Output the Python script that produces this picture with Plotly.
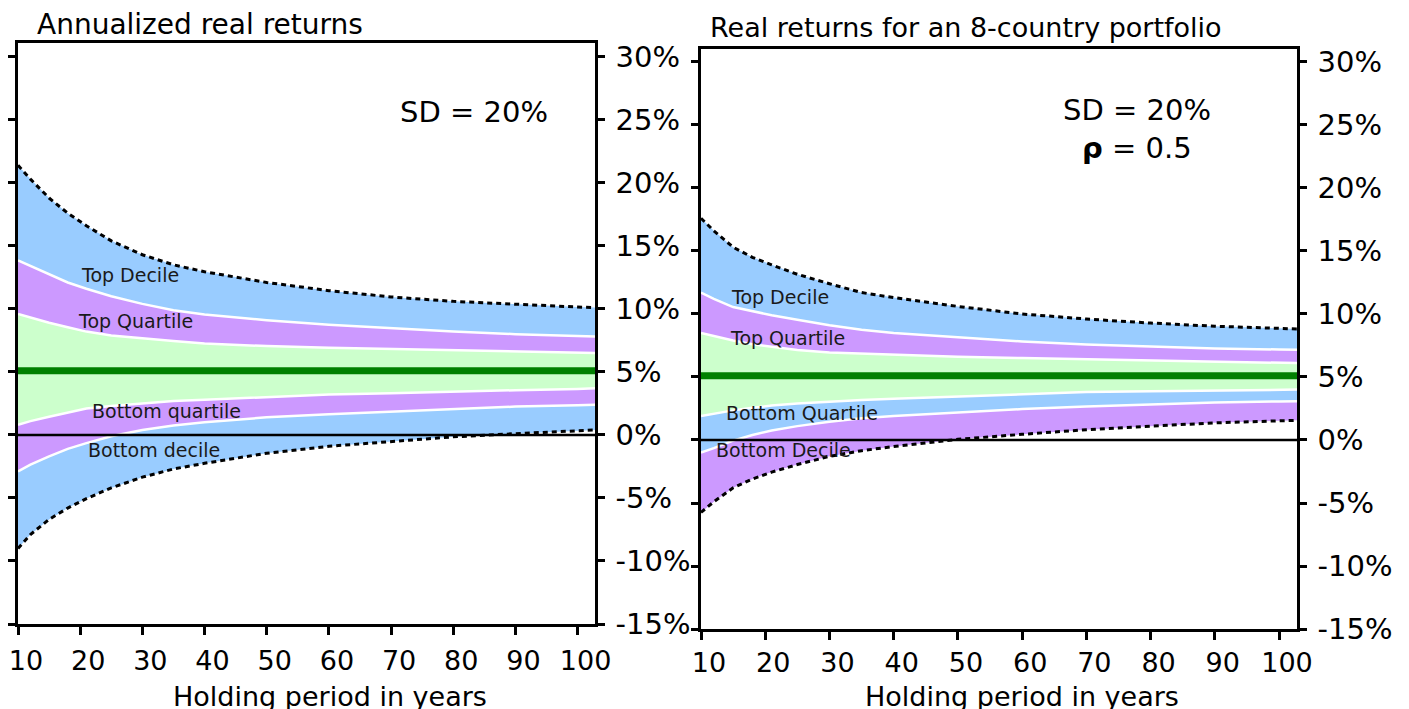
import plotly.graph_objects as go

# ---------------- data ----------------
YEARS = [10, 12, 15, 18, 21, 25, 30, 35, 40, 50, 60, 70, 80, 90, 100, 103]

# Left panel: annualized real returns, SD = 20%
L_TOP_DECILE = [21.4, 20.3, 18.8, 17.6, 16.6, 15.4, 14.3, 13.5, 12.95, 12.1, 11.45, 10.95, 10.6, 10.35, 10.15, 10.1]
L_TOP_Q_UP = [13.85, 13.4, 12.75, 12.1, 11.6, 11.0, 10.4, 9.9, 9.55, 9.1, 8.75, 8.45, 8.2, 8.0, 7.85, 7.8]
L_TOP_Q_LOW = [9.6, 9.3, 8.9, 8.55, 8.2, 7.9, 7.65, 7.45, 7.25, 7.05, 6.92, 6.82, 6.7, 6.6, 6.55, 6.5]
L_BOT_Q_UP = [0.8, 1.1, 1.45, 1.8, 2.1, 2.3, 2.5, 2.7, 2.8, 3.0, 3.2, 3.3, 3.45, 3.55, 3.65, 3.7]
L_BOT_Q_LOW = [-2.9, -2.35, -1.7, -1.1, -0.65, -0.1, 0.4, 0.75, 1.0, 1.4, 1.65, 1.85, 2.05, 2.25, 2.35, 2.4]
L_BOT_DECILE = [-9.0, -7.9, -6.7, -5.8, -5.05, -4.2, -3.35, -2.7, -2.25, -1.45, -0.9, -0.5, -0.15, 0.1, 0.35, 0.4]

# Right panel: 8-country portfolio, SD = 20%, rho = 0.5
R_TOP_DECILE = [17.6, 16.6, 15.3, 14.5, 13.9, 13.15, 12.4, 11.7, 11.3, 10.6, 10.0, 9.6, 9.28, 9.03, 8.86, 8.8]
R_TOP_Q_UP = [11.7, 11.2, 10.55, 10.2, 9.9, 9.55, 9.1, 8.75, 8.5, 8.15, 7.82, 7.57, 7.4, 7.27, 7.18, 7.15]
R_TOP_Q_LOW = [8.5, 8.25, 7.9, 7.6, 7.4, 7.15, 6.95, 6.85, 6.75, 6.6, 6.5, 6.42, 6.32, 6.22, 6.13, 6.1]
R_BOT_Q_UP = [1.9, 2.1, 2.35, 2.55, 2.73, 2.9, 3.07, 3.18, 3.28, 3.47, 3.64, 3.8, 3.86, 3.92, 3.97, 4.0]
R_BOT_Q_LOW = [-1.0, -0.65, -0.05, 0.4, 0.75, 1.1, 1.45, 1.72, 1.9, 2.2, 2.45, 2.66, 2.84, 2.98, 3.06, 3.08]
R_BOT_DECILE = [-5.75, -4.9, -3.8, -3.1, -2.55, -1.95, -1.3, -0.85, -0.52, 0.05, 0.45, 0.82, 1.1, 1.36, 1.52, 1.56]

MEAN_RETURN = 5.1
X_TICKS = [10, 20, 30, 40, 50, 60, 70, 80, 90, 100]
Y_TICKS = [-15, -10, -5, 0, 5, 10, 15, 20, 25, 30]
Y_TICK_TEXT = [f"{v}%" for v in Y_TICKS]

# ---------------- style ----------------
W, H = 1409, 709
FONT = "DejaVu Sans"
BLUE = "#99CCFF"
PURPLE = "#CC99FF"
GREEN = "#CCFFCC"
DARK_GREEN = "#008000"


def fx(p):
    return p / W


def fy(p):
    return 1 - p / H


fig = go.Figure()


def add_bands(xa, ya, series, colors):
    # series: bottom-to-top boundaries; colors: fill between consecutive
    for i, s in enumerate(series):
        dashed = i == 0 or i == len(series) - 1
        fig.add_trace(go.Scatter(
            x=YEARS, y=s, xaxis=xa, yaxis=ya, mode="lines",
            line=dict(color="black" if dashed else "white",
                      width=3 if dashed else 2.5, dash="5px,4px" if dashed else "solid"),
            fill=None if i == 0 else "tonexty",
            fillcolor=None if i == 0 else colors[i - 1],
            showlegend=False, hoverinfo="skip",
        ))


add_bands("x", "y",
          [L_BOT_DECILE, L_BOT_Q_LOW, L_BOT_Q_UP, L_TOP_Q_LOW, L_TOP_Q_UP, L_TOP_DECILE],
          [BLUE, PURPLE, GREEN, PURPLE, BLUE])
add_bands("x2", "y2",
          [R_BOT_DECILE, R_BOT_Q_LOW, R_BOT_Q_UP, R_TOP_Q_LOW, R_TOP_Q_UP, R_TOP_DECILE],
          [PURPLE, BLUE, GREEN, PURPLE, BLUE])

axis_common = dict(showgrid=False, zeroline=False, showline=True, linecolor="black",
                   linewidth=2.5, automargin=False)
xaxis_common = dict(**axis_common, mirror=True, range=[10, 102.8], tickvals=X_TICKS,
                    ticks="outside", ticklen=8, tickwidth=2.5, tickcolor="black",
                    tickfont=dict(family=FONT, size=27, color="black"),
                    ticklabelshift=8)
yaxis_common = dict(**axis_common, mirror="ticks", side="right", tickvals=Y_TICKS,
                    ticktext=Y_TICK_TEXT, ticks="outside", ticklen=7, tickwidth=2.5,
                    tickcolor="black", ticklabelstandoff=5,
                    tickfont=dict(family=FONT, size=29, color="black"))

fig.update_layout(
    width=W, height=H,
    margin=dict(l=0, r=0, t=0, b=0, autoexpand=False),
    paper_bgcolor="white", plot_bgcolor="white",
    hovermode=False,
    xaxis=dict(**xaxis_common, domain=[fx(18), fx(595)], anchor="y", ticklabelstandoff=3),
    yaxis=dict(**yaxis_common, domain=[fy(624), fy(43)], range=[-15, 31.1], anchor="x"),
    xaxis2=dict(**xaxis_common, domain=[fx(701), fx(1297)], anchor="y2", ticklabelstandoff=0),
    yaxis2=dict(**yaxis_common, domain=[fy(629), fy(49)], range=[-15, 31.03], anchor="x2"),
)

# zero line and mean line
for xa, ya in [("x", "y"), ("x2", "y2")]:
    fig.add_shape(type="line", xref=f"{xa} domain", x0=0, x1=1, yref=ya, y0=0, y1=0,
                  line=dict(color="black", width=2.5), layer="above")
    fig.add_shape(type="line", xref=f"{xa} domain", x0=0, x1=1, yref=ya,
                  y0=MEAN_RETURN, y1=MEAN_RETURN,
                  line=dict(color=DARK_GREEN, width=7), layer="above")


def note(text, x, y, size, xanchor="center", color="black"):
    fig.add_annotation(text=text, x=fx(x), y=fy(y), xref="paper", yref="paper",
                       xanchor=xanchor, yanchor="middle", showarrow=False,
                       font=dict(family=FONT, size=size, color=color))


note("Annualized real returns", 35, 25, 28, xanchor="left")
note("Real returns for an 8-country portfolio", 708, 27, 27, xanchor="left")
note("SD = 20%", 474, 112, 29)
note("SD = 20%", 1137, 110, 29)
note("<b>ρ</b> = 0.5", 1137, 148, 29)
note("Holding period in years", 330, 696, 27)
note("Holding period in years", 1022, 696, 27)

band_col = "#1a1a1a"
note("Top Decile", 130, 275, 19, color=band_col)
note("Top Quartile", 135, 321, 19, color=band_col)
note("Bottom quartile", 166, 411, 19, color=band_col)
note("Bottom decile", 154, 450, 19, color=band_col)
note("Top Decile", 780, 297, 19, color=band_col)
note("Top Quartile", 787, 338, 19, color=band_col)
note("Bottom Quartile", 802, 413, 19, color=band_col)
note("Bottom Decile", 783, 450, 19, color=band_col)

fig.write_html(
    "out.html",
    config={"displayModeBar": False},
    post_script="document.body.style.margin='0';document.body.style.overflow='hidden';",
)
